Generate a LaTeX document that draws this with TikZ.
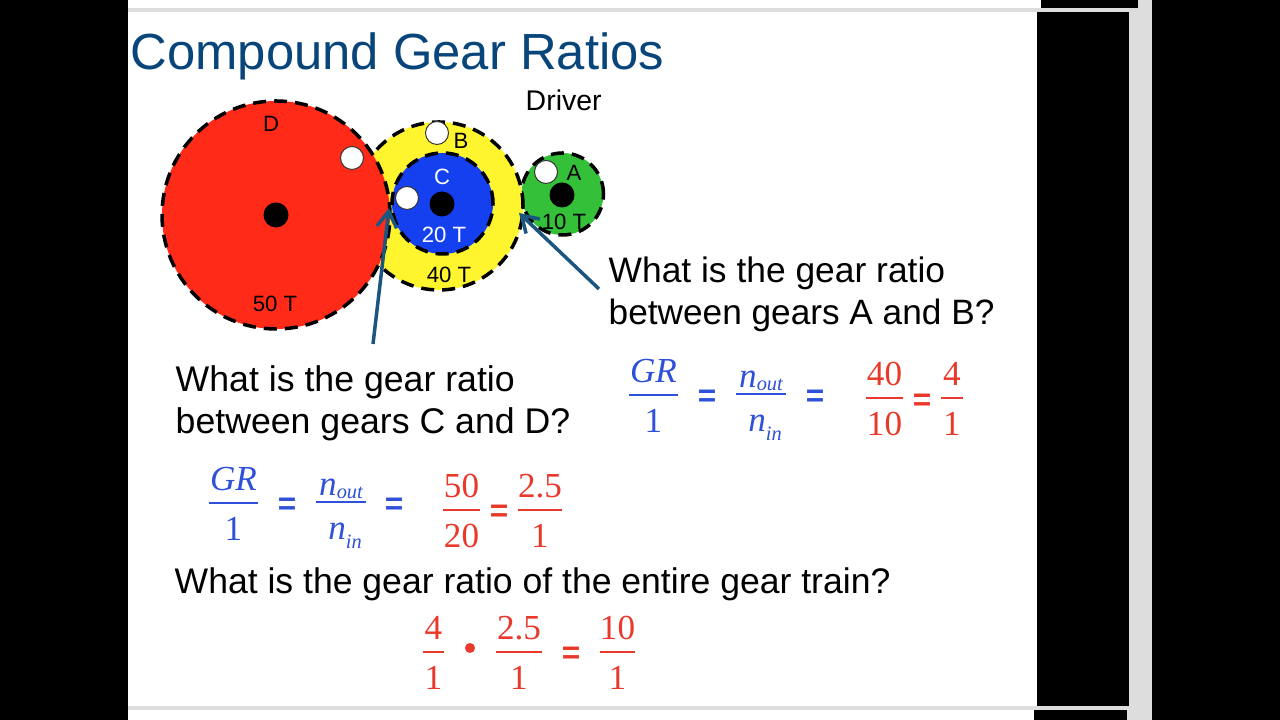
\documentclass[tikz,border=0pt]{standalone}
\usepackage{fontspec}
\setmainfont{Liberation Sans}
\newfontfamily\fracfont{Liberation Serif}
\usetikzlibrary{arrows.meta}
\definecolor{titleblue}{HTML}{08457A}
\definecolor{arrowblue}{HTML}{1B5680}
\definecolor{fracblue}{HTML}{2F50D8}
\definecolor{fracred}{HTML}{E8392B}
\definecolor{gearred}{HTML}{FF2A17}
\definecolor{gearyellow}{HTML}{FFF52E}
\definecolor{gearblue}{HTML}{1440F0}
\definecolor{geargreen}{HTML}{35C03A}
\definecolor{edgegrey}{HTML}{DDDDDD}
% name, left x, right x, rule y, numerator, denominator
\newcommand{\gearfrac}[6]{
  \node[fracnum] (#1n) at ({(#2+#3)/2},{#4+0.12}) {#5};
  \node[fracnum] (#1d) at ({(#2+#3)/2},{#4-0.38}) {#6};
  \draw[fracrule] (#2,#4) -- (#3,#4);
}
\newcommand{\subtxt}[1]{\raisebox{-2.5pt}{\fontsize{5.8pt}{6pt}\selectfont\itshape #1}}

\begin{document}
\begin{tikzpicture}[
  gear/.style={circle,draw=black,line width=0.035cm,dash pattern=on 0.13cm off 0.08cm,inner sep=0pt},
  hub/.style={circle,fill=black,inner sep=0pt,minimum size=0.25cm},
  pin/.style={circle,fill=white,draw=black!80,line width=0.01cm,inner sep=0pt,minimum size=0.23cm},
  geartxt/.style={font=\fontsize{6.3pt}{7pt}\selectfont,inner sep=0pt},
  question/.style={font=\fontsize{#1}{12pt}\selectfont,anchor=base west,inner sep=0pt},
  pointer/.style={draw=arrowblue,line width=0.035cm,-{Straight Barb[length=0.16cm,width=0.2cm]}},
  fracnum/.style={font=\fracfont\fontsize{10pt}{12pt}\selectfont,anchor=base,inner sep=0pt},
  fracrule/.style={line width=0.012cm},
  fraceq/.style={font=\bfseries\fontsize{9pt}{12pt}\selectfont,inner sep=0pt}]
  \useasboundingbox (0,0) rectangle (12.8,7.2);
  % ---------- frame ----------
  \fill[black] (0,0) rectangle (12.8,7.2);
  \fill[white] (1.28,0.1) rectangle (10.37,7.12);
  \fill[white] (1.28,7.12) rectangle (10.41,7.2);
  \fill[white] (1.28,0) rectangle (10.34,0.1);
  \fill[edgegrey] (11.29,0.1) rectangle (11.52,7.12);
  \fill[edgegrey] (11.38,7.12) rectangle (11.52,7.2);
  \fill[edgegrey] (11.27,0) rectangle (11.52,0.1);
  \fill[edgegrey] (1.28,7.08) rectangle (11.3,7.12);
  \fill[edgegrey] (1.28,0.1) rectangle (11.3,0.14);
  % ---------- title ----------
  \node[font=\fontsize{14.45pt}{17pt}\selectfont,text=titleblue,anchor=base west,inner sep=0pt] (title) at (1.3,6.5) {Compound Gear Ratios};
  \node[font=\fontsize{8.1pt}{10pt}\selectfont,anchor=base west,inner sep=0pt] (driver) at (5.25,6.09) {Driver};
  % ---------- gears ----------
  \node[gear,fill=geargreen,minimum size=0.82cm] (gearA) at (5.625,5.26) {};
  \node[gear,fill=gearyellow,minimum size=1.68cm] (gearB) at (4.39,5.14) {};
  \node[gear,fill=gearblue,minimum size=1.01cm] (gearC) at (4.425,5.165) {};
  \node[gear,fill=gearred,minimum size=2.28cm] (gearD) at (2.76,5.05) {};
  \node[hub] (hubD) at (2.76,5.05) {};
  \node[hub] (hubC) at (4.42,5.16) {};
  \node[hub] (hubA) at (5.62,5.25) {};
  \node[pin] (pinD) at (3.52,5.62) {};
  \node[pin] (pinB) at (4.37,5.87) {};
  \node[pin] (pinC) at (4.07,5.22) {};
  \node[pin] (pinA) at (5.46,5.48) {};
  % ---------- gear labels ----------
  \node[geartxt] (lblD) at (2.71,5.96) {D};
  \node[geartxt] (lblB) at (4.61,5.79) {B};
  \node[geartxt,text=white] (lblC) at (4.42,5.43) {C};
  \node[geartxt] (lblA) at (5.74,5.47) {A};
  \node[geartxt] (lblAT) at (5.64,4.98) {10 T};
  \node[geartxt,text=white] (lblCT) at (4.44,4.85) {20 T};
  \node[geartxt] (lblBT) at (4.49,4.45) {40 T};
  \node[geartxt] (lblDT) at (2.75,4.16) {50 T};
  % ---------- pointers ----------
  \coordinate (cdtail) at (3.73,3.76);
  \coordinate (cdtip) at (3.89,5.12);
  \coordinate (abtail) at (5.99,4.31);
  \coordinate (abtip) at (5.19,5.07);
  \draw[pointer] (cdtail) -- (cdtip);
  \draw[pointer] (abtail) -- (abtip);
  % ---------- questions ----------
  \node[question=10.07pt] (qab1) at (6.08,4.37) {What is the gear ratio};
  \node[question=10.02pt] (qab2) at (6.08,3.95) {between gears A and B?};
  \node[question=10.15pt] (qcd1) at (1.75,3.28) {What is the gear ratio};
  \node[question=10.15pt] (qcd2) at (1.75,2.86) {between gears C and D?};
  \node[question=10.12pt] (qall) at (1.74,1.26) {What is the gear ratio of the entire gear train?};
  % ---------- ratio A and B ----------
  \begin{scope}[text=fracblue,draw=fracblue]
    \gearfrac{abgr}{6.29}{6.78}{3.25}{\textit{GR}}{1}
    \gearfrac{abn}{7.36}{7.86}{3.26}{\raisebox{-1.5pt}{\textit{n}}\subtxt{out}}{\hspace{0.08cm}\textit{n}\subtxt{in}}
    \node[fraceq] (abeq1) at (7.07,3.22) {=};
    \node[fraceq] (abeq2) at (8.15,3.22) {=};
  \end{scope}
  \begin{scope}[text=fracred,draw=fracred]
    \gearfrac{abt}{8.66}{9.03}{3.22}{40}{10}
    \gearfrac{abs}{9.41}{9.63}{3.22}{4}{1}
    \node[fraceq] (abeq3) at (9.22,3.18) {=};
  \end{scope}
  % ---------- ratio C and D ----------
  \begin{scope}[text=fracblue,draw=fracblue]
    \gearfrac{cdgr}{2.09}{2.58}{2.17}{\textit{GR}}{1}
    \gearfrac{cdn}{3.16}{3.66}{2.18}{\raisebox{-1.5pt}{\textit{n}}\subtxt{out}}{\hspace{0.08cm}\textit{n}\subtxt{in}}
    \node[fraceq] (cdeq1) at (2.87,2.14) {=};
    \node[fraceq] (cdeq2) at (3.94,2.14) {=};
  \end{scope}
  \begin{scope}[text=fracred,draw=fracred]
    \gearfrac{cdt}{4.43}{4.80}{2.10}{50}{20}
    \gearfrac{cds}{5.18}{5.62}{2.10}{2.5}{1}
    \node[fraceq] (cdeq3) at (4.99,2.07) {=};
  \end{scope}
  % ---------- ratio of the train ----------
  \begin{scope}[text=fracred,draw=fracred]
    \gearfrac{alla}{4.23}{4.44}{0.68}{4}{1}
    \node[circle,fill=fracred,inner sep=0pt,minimum size=0.1cm] (alldot) at (4.70,0.72) {};
    \gearfrac{allb}{4.96}{5.42}{0.68}{2.5}{1}
    \node[fraceq] (alleq) at (5.71,0.65) {=};
    \gearfrac{allc}{6.00}{6.35}{0.68}{10}{1}
  \end{scope}
\end{tikzpicture}
\end{document}
